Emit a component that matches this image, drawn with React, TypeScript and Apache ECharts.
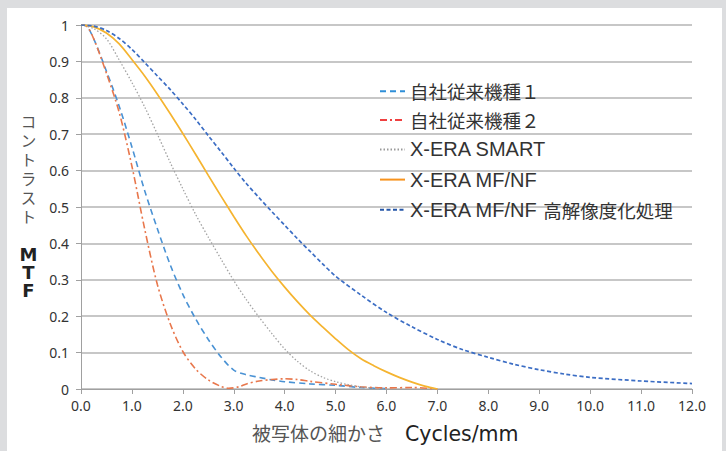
import React, { useEffect, useRef } from "react";
import * as echarts from "echarts";

const seriesNames = [
  "自社従来機種１",
  "自社従来機種２",
  "X-ERA SMART",
  "X-ERA MF/NF",
  "X-ERA MF/NF 高解像度化処理",
];

const legacy1: [number, number][] = [
  [0, 1], [0.1, 0.998], [0.25, 0.962], [0.5, 0.873], [0.75, 0.777], [1.0, 0.665], [1.25, 0.545],
  [1.5, 0.44], [1.75, 0.342], [2.0, 0.26], [2.25, 0.193], [2.5, 0.136], [2.75, 0.088],
  [3.0, 0.052], [3.25, 0.039], [3.5, 0.032], [3.75, 0.025], [4.0, 0.02], [4.5, 0.014],
  [5.0, 0.01], [5.5, 0.004], [6.0, 0.001],
];

const legacy2: [number, number][] = [
  [0, 1], [0.1, 0.998], [0.25, 0.962], [0.5, 0.867], [0.75, 0.76], [1.0, 0.612], [1.25, 0.44],
  [1.5, 0.287], [1.75, 0.18], [2.0, 0.103], [2.25, 0.055], [2.5, 0.025], [2.75, 0.007],
  [2.9, 0.002], [3.1, 0.006], [3.25, 0.014], [3.5, 0.022], [3.75, 0.026], [4.0, 0.028], [4.25, 0.026],
  [4.5, 0.021], [5.0, 0.013], [5.5, 0.006], [6.0, 0.003], [6.5, 0.004], [7.0, 0],
];

const smart: [number, number][] = [
  [0, 1], [0.25, 0.99], [0.5, 0.962], [0.75, 0.904], [1.0, 0.842], [1.25, 0.775], [1.5, 0.7],
  [1.75, 0.623], [2.0, 0.55], [2.25, 0.48], [2.5, 0.417], [2.75, 0.357], [3.0, 0.298],
  [3.25, 0.245], [3.5, 0.197], [3.75, 0.152], [4.0, 0.11], [4.25, 0.076], [4.5, 0.05],
  [4.75, 0.032], [5.0, 0.02], [5.25, 0.012], [5.5, 0.006], [5.75, 0.002], [6.0, 0],
];

const mfnf: [number, number][] = [
  [0, 1], [0.25, 0.995], [0.5, 0.978], [0.75, 0.948], [1.0, 0.905], [1.25, 0.86], [1.5, 0.81],
  [1.75, 0.757], [2.0, 0.702], [2.25, 0.645], [2.5, 0.587], [2.75, 0.53], [3.0, 0.474],
  [3.25, 0.42], [3.5, 0.37], [3.75, 0.323], [4.0, 0.28], [4.25, 0.24], [4.5, 0.203],
  [4.75, 0.17], [5.0, 0.138], [5.25, 0.108], [5.5, 0.083], [5.75, 0.064], [6.0, 0.047],
  [6.25, 0.032], [6.5, 0.019], [6.75, 0.008], [7.0, 0],
];

const hires: [number, number][] = [
  [0, 1], [0.25, 0.997], [0.5, 0.985], [0.75, 0.963], [1.0, 0.933], [1.25, 0.897], [1.5, 0.86],
  [1.75, 0.823], [2.0, 0.783], [2.25, 0.741], [2.5, 0.696], [2.75, 0.652], [3.0, 0.607],
  [3.25, 0.564], [3.5, 0.525], [3.75, 0.487], [4.0, 0.45], [4.25, 0.413], [4.5, 0.378],
  [4.75, 0.343], [5.0, 0.31], [5.5, 0.258], [6.0, 0.21], [6.5, 0.171], [7.0, 0.136],
  [7.5, 0.108], [8.0, 0.087], [8.5, 0.068], [9.0, 0.053], [9.5, 0.041], [10.0, 0.032],
  [11.0, 0.022], [12.0, 0.015],
];

const yTitleChars = ["コ", "ン", "ト", "ラ", "ス", "ト"];
const mtfChars = ["M", "T", "F"];

const lineColors = ["#4a92d4", "#e8774c", "#a3a3a3", "#f5b430", "#3b6dc4"];
const legendColors = ["#2f8fd8", "#ef4040", "#9a9a9a", "#f7931e", "#2456a8"];
const lineTypes: any[] = [[6, 4], [7, 3, 2, 3], [1.5, 2], "solid", [4, 2.5]];
const lineWidths = [1.6, 1.6, 1.3, 1.7, 1.7];
const allData = [legacy1, legacy2, smart, mfnf, hires];

const richName = (n: string) => {
  const idx = n.search(/[\u3000-\u9fff\uff00-\uffef]/);
  if (idx === 0) return `{j|${n}}`;
  if (idx < 0) return `{l|${n}}`;
  return `{l|${n.slice(0, idx)}}{j|${n.slice(idx)}}`;
};

export default function App() {
  const ref = useRef<HTMLDivElement>(null);
  useEffect(() => {
    document.body.style.margin = "0";
    const chart = echarts.init(ref.current!, undefined, { renderer: "svg" });
    const font = "'Noto Sans', 'Noto Sans CJK JP', sans-serif";
    chart.setOption({
      animation: false,
      backgroundColor: "#dcdddf",
      textStyle: { fontFamily: font },
      grid: { left: 81, right: 34, top: 25, bottom: 62, containLabel: false },
      xAxis: {
        type: "value",
        min: 0,
        max: 12,
        interval: 1,
        axisLine: { show: true, lineStyle: { color: "#a0a0a0", width: 1 } },
        axisTick: { show: true, length: 5, lineStyle: { color: "#a0a0a0" } },
        splitLine: { show: false },
        axisLabel: {
          color: "#333",
          fontSize: 14,
          margin: 9,
          fontFamily: font,
          formatter: (v: number) => v.toFixed(1),
        },
      },
      yAxis: {
        type: "value",
        min: 0,
        max: 1,
        interval: 0.1,
        axisLine: { show: true, lineStyle: { color: "#a0a0a0", width: 1 } },
        axisTick: { show: true, length: 5, lineStyle: { color: "#a0a0a0" } },
        splitLine: { show: true, lineStyle: { color: "#b4b4b4", width: 1.5 } },
        axisLabel: {
          color: "#333",
          fontSize: 14,
          margin: 12,
          fontFamily: font,
          formatter: (v: number) => {
            const r = Math.round(v * 10) / 10;
            if (r === 1) return "1";
            if (r === 0) return "0";
            return r.toFixed(1);
          },
        },
      },
      legend: {
        orient: "vertical",
        left: 379,
        top: 82,
        padding: 0,
        itemWidth: 25,
        itemHeight: 12,
        itemGap: 10.2,
        formatter: richName,
        textStyle: {
          color: "#333",
          lineHeight: 18,
          rich: {
            l: { fontFamily: "'Liberation Sans', Arial, sans-serif", fontSize: 20, color: "#333", lineHeight: 18 },
            j: { fontFamily: "'Noto Sans CJK JP', sans-serif", fontSize: 18.5, color: "#333", lineHeight: 18 },
          },
        },
        data: seriesNames.map((n, i) => ({
          name: n,
          lineStyle: { color: legendColors[i], width: 2, type: lineTypes[i] },
          itemStyle: { color: "transparent", opacity: 0, borderWidth: 0 },
        })),
      },
      graphic: [
        {
          type: "rect",
          z: -10,
          silent: true,
          shape: { x: 7, y: 8, width: 715, height: 443 },
          style: { fill: "#ffffff" },
        },
        ...yTitleChars.map((c, i) => ({
          type: "text",
          x: 28.5,
          y: 113 + i * 19,
          style: {
            text: c,
            font: `15.5px 'Noto Sans CJK JP'`,
            fill: "#555",
            align: "center",
            verticalAlign: "top",
          },
        })),
        ...mtfChars.map((c, i) => ({
          type: "text",
          x: 28.5,
          y: 245 + i * 18,
          style: {
            text: c,
            font: `bold 18px 'DejaVu Sans', sans-serif`,
            fill: "#222",
            align: "center",
            verticalAlign: "top",
          },
        })),
        {
          type: "text",
          left: 252,
          top: 423,
          style: {
            text: "被写体の細かさ",
            font: `19px 'Noto Sans CJK JP'`,
            fill: "#555",
          },
        },
        {
          type: "text",
          left: 405,
          top: 423,
          style: {
            text: "Cycles/mm",
            font: `20.5px 'DejaVu Sans', sans-serif`,
            fill: "#222",
          },
        },
      ],
      series: allData.map((d, i) => ({
        name: seriesNames[i],
        type: "line",
        data: d,
        smooth: 0.3,
        symbol: "none",
        showSymbol: false,
        lineStyle: { color: lineColors[i], width: lineWidths[i], type: lineTypes[i] },
        itemStyle: { color: lineColors[i] },
      })),
    });
    return () => chart.dispose();
  }, []);
  return <div ref={ref} style={{ width: 726, height: 451 }} />;
}
